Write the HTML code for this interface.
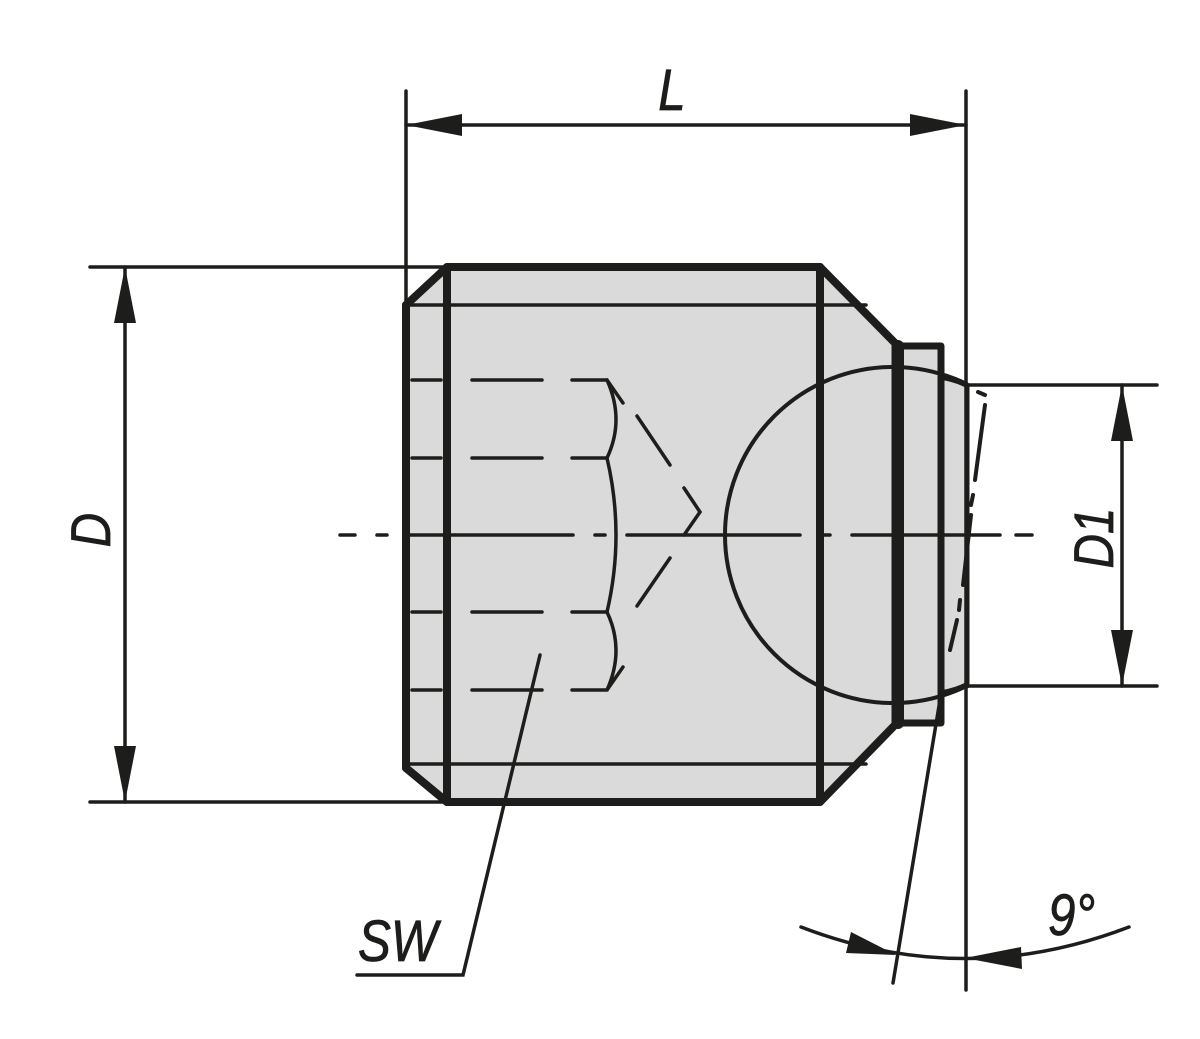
<!DOCTYPE html>
<html><head><meta charset="utf-8"><style>
html,body{margin:0;padding:0;background:#fff;}
svg{display:block;}
text{font-family:"Liberation Sans",sans-serif;fill:#1d1d1b;font-style:italic;stroke:#1d1d1b;stroke-width:0.8;}
</style></head><body>
<svg width="1200" height="1039" viewBox="0 0 1200 1039" xmlns="http://www.w3.org/2000/svg">
<defs>
<clipPath id="c"><rect x="700" y="340" width="268" height="390"/></clipPath>
</defs>
<g stroke="#1d1d1b" fill="none" stroke-linecap="round">
<path d="M447,267 L820,267 L895,343 L942,343 L942,380 L968,385 L968,686 L942,692 L942,725 L895,725 L820,802 L447,802 L406,768 L406,305 Z" fill="#dadada" stroke="none"/>
<circle cx="893" cy="535" r="168" stroke-width="4" clip-path="url(#c)"/>
<line x1="406" y1="305" x2="866" y2="305" stroke-width="3.5"/>
<line x1="406" y1="764" x2="866" y2="764" stroke-width="3.5"/>
<path d="M406,305 L447,267 L820,267 L895,343" stroke-width="8" stroke-linejoin="round"/>
<path d="M406,768 L447,802 L820,802 L895,725" stroke-width="8" stroke-linejoin="round"/>
<line x1="406" y1="305" x2="406" y2="768" stroke-width="8"/>
<line x1="447" y1="267" x2="447" y2="802" stroke-width="8"/>
<line x1="820" y1="267" x2="820" y2="802" stroke-width="8"/>
<rect x="895" y="346" width="46" height="377" stroke-width="7" stroke-linejoin="round"/>
<line x1="898" y1="346" x2="898" y2="723" stroke-width="12"/>
<line x1="967" y1="385" x2="967" y2="686" stroke-width="5"/>
<path d="M942,378 Q955,380 967,386" stroke-width="4"/>
<path d="M942,692 Q955,690 967,684" stroke-width="4"/>
<g stroke-width="3.5">
<path d="M412,380 H441 M472,380 H542 M572,380 H607" />
<path d="M412,458 H441 M472,458 H542 M572,458 H607" />
<path d="M412,612 H441 M472,612 H542 M572,612 H607" />
<path d="M412,690 H441 M472,690 H542 M572,690 H607" />
<path d="M607,380 L623,403 M607,380 Q625,420 607,458 Q625,535 607,612 Q625,650 607,690 L623,667"/>
<path d="M637,416 L670,465 M684,488 L700,512 L684,535 M670,558 L637,606"/>
</g>
<path d="M340,535 H355 M377,535 H387 M409,535 H573 M595,535 H605 M627,535 H800 M822,535 H830 M852,535 H1000 M1016,535 H1032" stroke-width="3.5"/>
<line x1="893" y1="983" x2="940" y2="700" stroke-width="3.5"/>
<path d="M985,395 L978,392 M985,405 L975,480 M973,495 L971,505 M971,515 L963,585 M960,600 L959,610 M957,620 L950,650" stroke-width="4"/>
<line x1="406" y1="91" x2="406" y2="305" stroke-width="3.5"/>
<line x1="966" y1="91" x2="966" y2="990" stroke-width="3.5"/>
<line x1="406" y1="125" x2="966" y2="125" stroke-width="3.5"/>
<line x1="90" y1="267" x2="447" y2="267" stroke-width="3.5"/>
<line x1="90" y1="802" x2="447" y2="802" stroke-width="3.5"/>
<line x1="125" y1="267" x2="125" y2="802" stroke-width="3.5"/>
<line x1="968" y1="385" x2="1157" y2="385" stroke-width="3.5"/>
<line x1="968" y1="686" x2="1157" y2="686" stroke-width="3.5"/>
<line x1="1122" y1="385" x2="1122" y2="686" stroke-width="3.5"/>
<path d="M801,927 Q965,990 1129,927" stroke-width="3.5"/>
<path d="M540,655 L463,975 H357" stroke-width="3.5"/>
</g>
<g fill="#1d1d1b">
<polygon points="406,125 462,114 462,136"/>
<polygon points="966,125 910,114 910,136"/>
<polygon points="125,267 114,323 136,323"/>
<polygon points="125,802 114,746 136,746"/>
<polygon points="1122,385 1111,441 1133,441"/>
<polygon points="1122,686 1111,630 1133,630"/>
<polygon points="896,955 846,953 851,932"/>
<polygon points="965,958 1021,947 1022,969"/>
</g>
<text x="0" y="0" font-size="56" transform="translate(110,530) rotate(-90) scale(0.85,1)" text-anchor="middle">D</text>
<text x="0" y="0" font-size="56" transform="translate(1113,538) rotate(-90) scale(0.85,1)" text-anchor="middle">D1</text>
<text x="672" y="110" font-size="58" text-anchor="middle" transform="translate(672,0) scale(0.85,1) translate(-672,0)">L</text>
<text x="358" y="961" font-size="58" transform="translate(358,0) scale(0.85,1) translate(-358,0)">SW</text>
<text x="1048" y="935" font-size="58" transform="translate(1048,0) scale(0.85,1) translate(-1048,0)">9°</text>
</svg>
</body></html>
